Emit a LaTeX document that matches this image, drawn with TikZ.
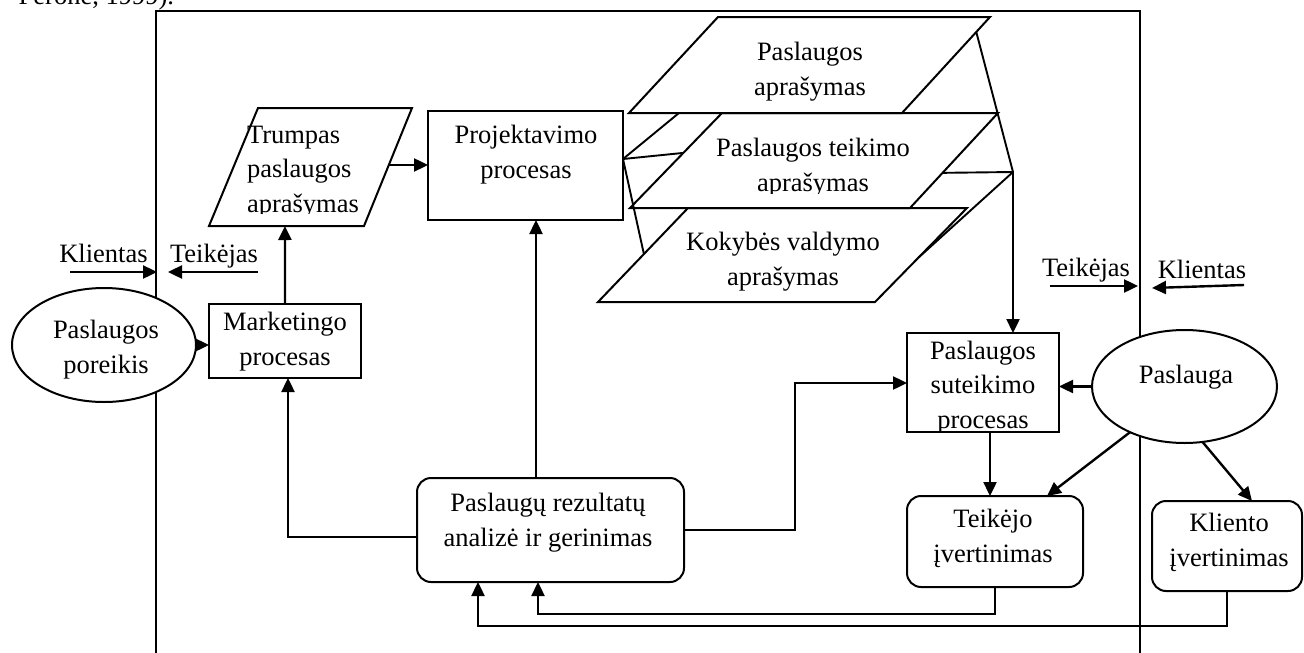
\documentclass[tikz,border=0pt]{standalone}
\usepackage{fontspec}
\setmainfont{Liberation Serif}
\usetikzlibrary{arrows.meta,calc,shapes.geometric}
\begin{document}
\begin{tikzpicture}[x=1pt,y=-1pt,
  every node/.style={font=\fontsize{26.5}{34.5}\selectfont, inner sep=0pt, outer sep=0pt},
  shp/.style={draw, line width=2pt},
  box/.style={shp, rectangle},
  rbox/.style={shp, rectangle, rounded corners=14pt},
  ell/.style={shp, ellipse, fill=white},
  arr/.style={line width=2.4pt, -{Triangle[length=14pt,width=13pt]}},
  fan/.style={line width=1.9pt},
  txt/.style={anchor=base, align=center}]
\useasboundingbox (0,0) rectangle (1304,653);

% outer frame (open at the bottom)
\draw[line width=2.2pt] (156,660) |- (1140,11) -- (1140,660);

% citation line above the frame
\node[anchor=base east] (cite) at (174,4.5) {Perone, 1999).};

% parallelogram corners
\coordinate (t1) at (258,108); \coordinate (t2) at (412,108);
\coordinate (t3) at (364,226); \coordinate (t4) at (209,226);
\coordinate (a1) at (718,17);  \coordinate (a2) at (990,17);
\coordinate (a3) at (902,113); \coordinate (a4) at (629,113);
\coordinate (b1) at (722,113); \coordinate (b2) at (998,113);
\coordinate (b3) at (910,208); \coordinate (b4) at (630,208);
\coordinate (c1) at (688,208); \coordinate (c2) at (967,208);
\coordinate (c3) at (875,302); \coordinate (c4) at (598,302);
\draw[shp] (t1) -- (t2) -- (t3) -- (t4) -- cycle;
\draw[shp] (a1) -- (a2) -- (a3) -- (a4) -- cycle;
\draw[shp] (b1) -- (b2) -- (b3) -- (b4) -- cycle;
\draw[shp] (c1) -- (c2) -- (c3) -- (c4) -- cycle;

% boxes and ellipses
\node[box, minimum width=195pt, minimum height=109pt] (proj) at (525.5,165.5) {};
\node[box, minimum width=152pt, minimum height=74pt] (mark) at (285,341) {};
\node[box, minimum width=152pt, minimum height=99pt] (sut) at (983,382.5) {};
\node[rbox, minimum width=267pt, minimum height=104pt] (rez) at (550.5,530) {};
\node[rbox, minimum width=176pt, minimum height=91pt] (teik) at (995,541.5) {};
\node[rbox, minimum width=150pt, minimum height=90pt] (klient) at (1227,546) {};
\node[ell, minimum width=184pt, minimum height=114pt] (por) at (104,345) {};
\node[ell, minimum width=185pt, minimum height=113pt] (pas) at (1184.5,386.5) {};

% texts (base anchor = baseline of the last line)
\begin{scope}
  \clip (200,100) rectangle (420,213);
  \node[anchor=base west, align=left] (ttrumpas) at (247,212) {Trumpas\\paslaugos\\aprašymas};
\end{scope}
\node[txt] (tproj) at (526,178) {Projektavimo\\procesas};
\node[txt] (tmark) at (285,365) {Marketingo\\procesas};
\node[txt] (tpor) at (106,373) {Paslaugos\\poreikis};
\node[txt] (ta) at (810,95) {Paslaugos\\aprašymas};
\begin{scope}
  \clip (640,115) rectangle (990,193);
  \node[txt] (tb) at (813,191) {Paslaugos teikimo\\aprašymas};
\end{scope}
\node[txt] (tc) at (783,285) {Kokybės valdymo\\aprašymas};
\begin{scope}
  \clip (909,335) rectangle (1057,431);
  \node[txt] (tsut) at (983,428) {Paslaugos\\suteikimo\\procesas};
\end{scope}
\node[txt] (tpas) at (1186,383) {Paslauga};
\node[txt] (trez) at (548,546) {Paslaugų rezultatų\\analizė ir gerinimas};
\node[txt] (tteik) at (993,562) {Teikėjo\\įvertinimas};
\node[txt] (tkl) at (1229,566) {Kliento\\įvertinimas};

% side labels
\node[txt] (lk1) at (103.5,262) {Klientas};
\node[txt] (lt1) at (214,262) {Teikėjas};
\node[txt] (lt2) at (1086,276) {Teikėjas};
\node[txt] (lk2) at (1202,278) {Klientas};
\coordinate (k1a) at (70,272);   \coordinate (k1b) at (157,272);
\coordinate (e1a) at (258,272);  \coordinate (e1b) at (168,272);
\coordinate (e2a) at (1050,286); \coordinate (e2b) at (1138,286);
\coordinate (k2a) at (1244,285); \coordinate (k2b) at (1152,288);
\draw[arr] (k1a) -- (k1b);
\draw[arr] (e1a) -- (e1b);
\draw[arr] (e2a) -- (e2b);
\draw[arr] (k2a) -- (k2b);

% main flow
\coordinate (trbot) at ($(t4)!0.49!(t3)$);
\coordinate (trR) at ($(t2)!0.483!(t3)$);
\draw[arr] (por.east |- 0,345) -- (mark.west |- 0,345);
\draw[arr] (mark.north) -- (trbot);
\draw[arr] (trR) -- (trR -| proj.west);
\draw[arr] ([xshift=-14.5pt]rez.north) -- ([xshift=-14.5pt]rez.north |- proj.south);
\draw[arr] ([yshift=-7pt]rez.west) -| ([xshift=3pt]mark.south);
\coordinate (bend) at (795,383);
\draw[arr] (rez.east) -| (bend) -- (bend -| sut.west);

% fan of links between design process and the three descriptions
\coordinate (P) at ([yshift=6.5pt]proj.east);
\coordinate (J) at (1013,172);
\draw[fan] (P) -- ($(a4)!0.183!(a3)$);
\draw[fan] (P) -- ($(b1)!0.42!(b4)$);
\draw[fan] (P) -- ($(c1)!0.49!(c4)$);
\draw[fan] (J) -- ($(a2)!0.156!(a3)$);
\draw[fan] (J) -- ($(b2)!0.63!(b3)$);
\draw[fan] (J) -- ($(c2)!0.53!(c3)$);
\draw[arr] (J) -- (J |- sut.north);

% delivery and evaluation
\draw[arr] (pas.west) -- (pas.west -| sut.east);
\draw[arr] ([xshift=7pt]sut.south) -- ([xshift=7pt]sut.south |- teik.north);
\draw[arr] (pas.220) -- ([xshift=52pt]teik.north);
\draw[arr] (pas.288) -- ([xshift=25pt]klient.north);

% feedback to results analysis
\draw[arr] (teik.south) |- ([xshift=-12.5pt,yshift=-32pt]rez.south) -- ([xshift=-12.5pt]rez.south);
\draw[arr] (klient.south) |- ([xshift=-72.5pt,yshift=-44pt]rez.south) -- ([xshift=-72.5pt]rez.south);
\end{tikzpicture}
\end{document}
